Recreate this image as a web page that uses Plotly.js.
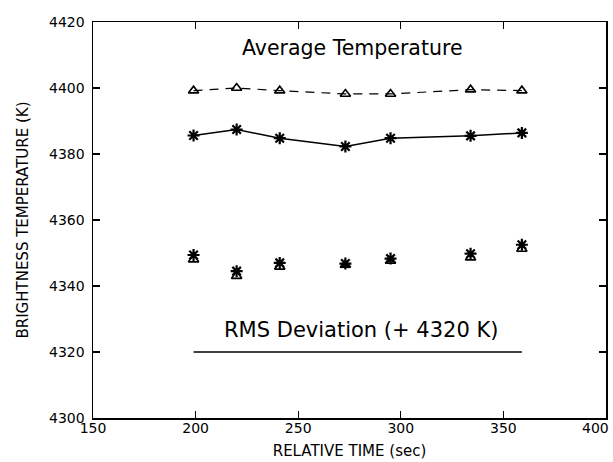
<!DOCTYPE html>
<html>
<head>
<meta charset="utf-8">
<script src="https://cdn.plot.ly/plotly-3.0.1.min.js"></script>
<style>html,body{margin:0;padding:0;background:#fff;}#chart{width:613px;height:462px;}</style>
</head>
<body>
<div id="chart"></div>
<script>
const times = [199, 220, 241, 273, 295, 334, 359];
const avgTriangle = [4399.2, 4400.0, 4399.2, 4398.2, 4398.2, 4399.5, 4399.2];
const avgStar = [4385.6, 4387.4, 4384.8, 4382.3, 4384.8, 4385.5, 4386.4];
const rmsStar = [4349.4, 4344.5, 4347.0, 4346.8, 4348.3, 4349.8, 4352.5];
const rmsTriangle = [4348.0, 4343.0, 4345.8, 4346.4, 4347.6, 4348.6, 4351.2];
const rmsOffset = 4320;
const xTicks = [150, 200, 250, 300, 350, 400];
const yTicks = [4300, 4320, 4340, 4360, 4380, 4400, 4420];

const font = "DejaVu Sans, sans-serif";
const traces = [
  {x: times, y: avgTriangle, mode: 'lines+markers', type: 'scatter',
   line: {color: '#000', width: 1.2, dash: '9px,7px'},
   marker: {symbol: 'triangle-up-open', size: 9, color: '#000', line: {width: 1.6, color: '#000'}}},
  {x: times, y: avgStar, mode: 'lines+markers', type: 'scatter',
   line: {color: '#000', width: 1.5},
   marker: {symbol: 'asterisk-open', size: 10, color: '#000', line: {width: 2.2, color: '#000'}}},
  {x: times, y: rmsTriangle, mode: 'markers', type: 'scatter',
   marker: {symbol: 'triangle-up-open', size: 9, color: '#000', line: {width: 1.6, color: '#000'}}},
  {x: times, y: rmsStar, mode: 'markers', type: 'scatter',
   marker: {symbol: 'asterisk-open', size: 10, color: '#000', line: {width: 2.2, color: '#000'}}},
  {x: [times[0], times[times.length - 1]], y: [rmsOffset, rmsOffset], mode: 'lines', type: 'scatter',
   line: {color: '#000', width: 1.5}}
];

// last x tick label is drawn as an annotation so it stays inside the page edge
const lastX = xTicks[xTicks.length - 1];
const layout = {
  width: 613, height: 462,
  margin: {l: 93, r: 7, t: 22, b: 44},
  paper_bgcolor: '#fff', plot_bgcolor: '#fff',
  showlegend: false,
  font: {family: font, color: '#000'},
  xaxis: {
    range: [150, 400], tickvals: xTicks,
    ticktext: xTicks.map(v => v === lastX ? '' : String(v)),
    ticks: 'inside', ticklen: 7, tickwidth: 1.2, tickcolor: '#000',
    showline: true, linecolor: '#000', linewidth: 1.5, mirror: 'ticks',
    showgrid: false, zeroline: false,
    tickfont: {family: font, size: 14, color: '#000'},
    ticklabelstandoff: -3,
    title: {text: 'RELATIVE TIME (sec)', font: {family: font, size: 15, color: '#000'}, standoff: 10}
  },
  yaxis: {
    range: [4300, 4420], tickvals: yTicks, ticktext: yTicks.map(String),
    ticks: 'inside', ticklen: 7, tickwidth: 1.2, tickcolor: '#000',
    showline: true, linecolor: '#000', linewidth: 1.5, mirror: 'ticks',
    showgrid: false, zeroline: false,
    tickfont: {family: font, size: 14, color: '#000'},
    ticklabelstandoff: 4,
    title: {text: 'BRIGHTNESS TEMPERATURE (K)', font: {family: font, size: 15, color: '#000'}, standoff: 17}
  },
  annotations: [
    {x: 276.5, y: 4412.2, xref: 'x', yref: 'y', text: 'Average Temperature', showarrow: false,
     font: {family: font, size: 20.5, color: '#000'}},
    {x: 280.7, y: 4326.8, xref: 'x', yref: 'y', text: 'RMS Deviation (+ 4320 K)', showarrow: false,
     font: {family: font, size: 21, color: '#000'}},
    {x: 611, y: 428, xref: 'paper', yref: 'paper', text: String(lastX), showarrow: false,
     xanchor: 'right', yanchor: 'middle', font: {family: font, size: 14, color: '#000'}}
  ]
};
// convert pixel position of the last label to paper coordinates
const plotW = 613 - layout.margin.l - layout.margin.r;
const plotH = 462 - layout.margin.t - layout.margin.b;
const lab = layout.annotations[2];
lab.x = (lab.x - layout.margin.l) / plotW;
lab.y = (462 - layout.margin.b - lab.y) / plotH;
Plotly.newPlot('chart', traces, layout, {staticPlot: true, displayModeBar: false});
</script>
</body>
</html>
